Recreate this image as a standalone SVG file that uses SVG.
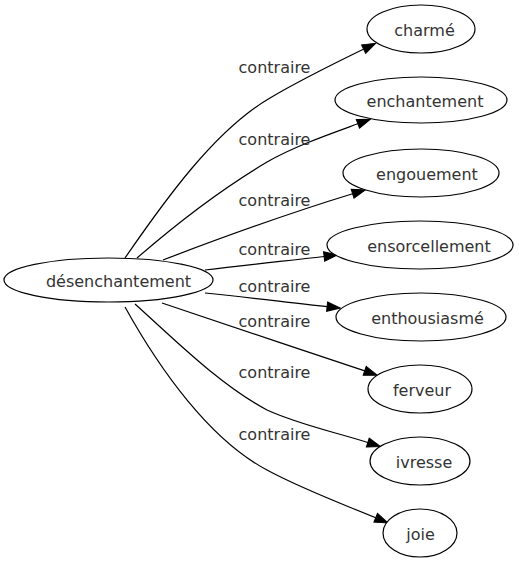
<svg xmlns="http://www.w3.org/2000/svg" width="519" height="563" viewBox="0 0 519 563">
<style>
.n{fill:#fff;stroke:#000;stroke-width:1.2}
.t{font-family:"DejaVu Sans",sans-serif;font-size:16px;fill:#333;text-anchor:middle}
.e{fill:none;stroke:#000;stroke-width:1.2}
.l{font-family:"DejaVu Sans",sans-serif;font-size:16px;fill:#333;text-anchor:middle}
</style>
<defs>
<marker id="a" markerUnits="userSpaceOnUse" markerWidth="14" markerHeight="10" refX="0" refY="4.7" orient="auto" overflow="visible">
<path d="M0,0 L13.3,4.7 L0,9.4 z" fill="#000" stroke="#000" stroke-width="1"/>
</marker>
</defs>
<rect width="519" height="563" fill="#fff"/>
<g id="edges">
<path class="e" marker-end="url(#a)" d="M125,258 C165,200 215,130 270,98 C300,80 335,63 363.6,49.1"/>
<path class="e" marker-end="url(#a)" d="M137,258 C175,225 220,190 267,162 C295,146 330,134 357.9,123.8"/>
<path class="e" marker-end="url(#a)" d="M163,260 C210,242 280,216 352.6,193.8"/>
<path class="e" marker-end="url(#a)" d="M205,270 C245,265 285,261 324.1,256.5"/>
<path class="e" marker-end="url(#a)" d="M205,293 C245,297 285,302 327.1,306.6"/>
<path class="e" marker-end="url(#a)" d="M162,303 C220,323 300,349 364.7,370.9"/>
<path class="e" marker-end="url(#a)" d="M135,304 C175,340 220,385 267,410 C300,425 335,432 367.8,442.5"/>
<path class="e" marker-end="url(#a)" d="M125,307 C160,370 210,440 267,470 C300,488 340,503 375.7,517.8"/>
<text class="l" x="274.5" y="73">contraire</text>
<text class="l" x="274.5" y="145">contraire</text>
<text class="l" x="274.5" y="206">contraire</text>
<text class="l" x="274.5" y="255">contraire</text>
<text class="l" x="274.5" y="292">contraire</text>
<text class="l" x="274.5" y="327">contraire</text>
<text class="l" x="274.5" y="378">contraire</text>
<text class="l" x="274.5" y="440">contraire</text>
</g>
<g id="desenchantement"><ellipse class="n" cx="108.5" cy="280" rx="104.5" ry="22"/><text class="t" x="118.5" y="287">désenchantement</text></g>
<g id="charme"><ellipse class="n" cx="421" cy="29" rx="54" ry="24"/><text class="t" x="424.5" y="36">charmé</text></g>
<g id="enchantement"><ellipse class="n" cx="421" cy="100" rx="86" ry="23"/><text class="t" x="425" y="107">enchantement</text></g>
<g id="engouement"><ellipse class="n" cx="421" cy="173" rx="78" ry="24"/><text class="t" x="427" y="180">engouement</text></g>
<g id="ensorcellement"><ellipse class="n" cx="420" cy="245" rx="93" ry="24"/><text class="t" x="429" y="252">ensorcellement</text></g>
<g id="enthousiasme"><ellipse class="n" cx="421" cy="317" rx="85" ry="24"/><text class="t" x="427.5" y="324">enthousiasmé</text></g>
<g id="ferveur"><ellipse class="n" cx="420" cy="389" rx="52" ry="24"/><text class="t" x="422" y="396">ferveur</text></g>
<g id="ivresse"><ellipse class="n" cx="420" cy="461" rx="50" ry="24"/><text class="t" x="424" y="468">ivresse</text></g>
<g id="joie"><ellipse class="n" cx="420" cy="533" rx="37" ry="24"/><text class="t" x="420.5" y="540">joie</text></g>
</svg>
